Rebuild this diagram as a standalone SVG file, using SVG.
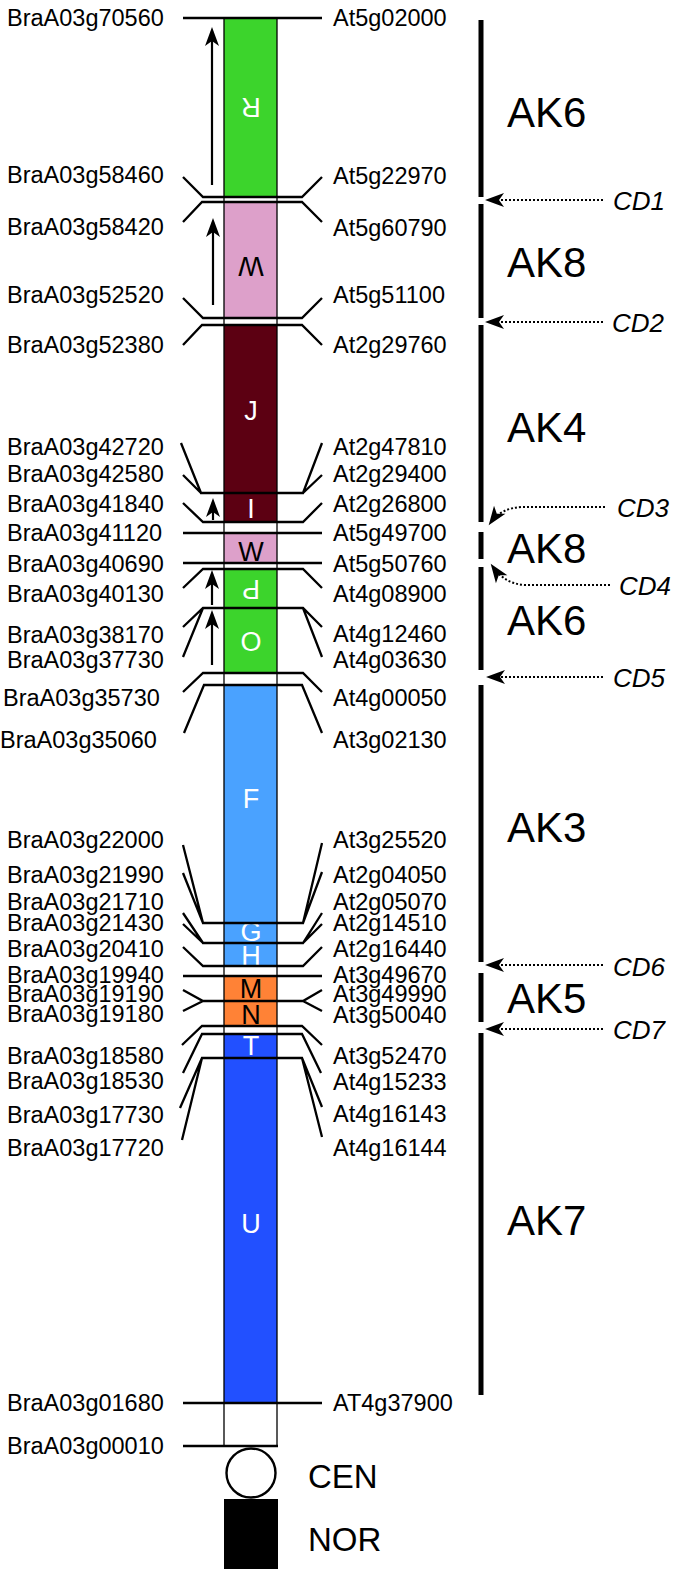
<svg xmlns="http://www.w3.org/2000/svg" width="685" height="1573" viewBox="0 0 685 1573">
<style>
.lbl{font-family:"Liberation Sans",Arial,Helvetica,sans-serif;font-size:23.5px;fill:#000}
.seg{font-family:"Liberation Sans",Arial,Helvetica,sans-serif;font-size:27px;text-anchor:middle;fill:#fff}
.segk{fill:#000}
.ak{font-family:"Liberation Sans",Arial,Helvetica,sans-serif;font-size:42px;fill:#000}
.cd{font-family:"Liberation Sans",Arial,Helvetica,sans-serif;font-size:26px;font-style:italic;fill:#000}
.big{font-family:"Liberation Sans",Arial,Helvetica,sans-serif;font-size:33px;fill:#000}
.j{fill:none;stroke:#000;stroke-width:2.3;stroke-linejoin:miter}
.bar{stroke:#000;stroke-width:5}
.dot{fill:none;stroke:#000;stroke-width:2;stroke-dasharray:2 2}
.arr{stroke:#000;stroke-width:2.2;marker-end:url(#ah)}
.green{fill:#3CD42C}.pink{fill:#DDA0CA}.dred{fill:#5C0012}.lblue{fill:#4AA2FF}.orange{fill:#FF8236}.blue{fill:#2250FF}
</style>
<defs>
<marker id="ah" markerUnits="userSpaceOnUse" orient="auto" refX="0" refY="0" viewBox="-17 -8 23 16" markerWidth="23" markerHeight="16">
<path d="M4,0 L-15,-7 L-10,0 L-15,7 Z" fill="#000"/>
</marker>
</defs>
<rect width="685" height="1573" fill="#fff"/>

<g id="chromosome">
<rect x="224" y="18" width="53" height="1428" fill="#fff"/>
<g id="seg-R"><rect class="green" x="224" y="18" width="53" height="179"/><text class="seg" x="251" y="118" transform="rotate(180 251 108)">R</text></g>
<g id="seg-W1"><rect class="pink" x="224" y="202" width="53" height="116"/><text class="seg segk" x="251" y="277" transform="rotate(180 251 267)">W</text></g>
<g id="seg-J"><rect class="dred" x="224" y="325" width="53" height="168"/><text class="seg" x="251" y="420">J</text></g>
<g id="seg-I"><rect class="dred" x="224" y="493" width="53" height="29"/><text class="seg" x="251" y="518">I</text></g>
<g id="seg-W2"><rect class="pink" x="224" y="533" width="53" height="30"/><text class="seg segk" x="251" y="561">W</text></g>
<g id="seg-P"><rect class="green" x="224" y="568" width="53" height="40"/><text class="seg" x="251" y="600" transform="rotate(180 251 590)">P</text></g>
<g id="seg-O"><rect class="green" x="224" y="608" width="53" height="65"/><text class="seg" x="251" y="651">O</text></g>
<g id="seg-F"><rect class="lblue" x="224" y="685" width="53" height="238"/><text class="seg" x="251" y="808">F</text></g>
<g id="seg-G"><rect class="lblue" x="224" y="923" width="53" height="20"/><text class="seg" x="251" y="941">G</text></g>
<g id="seg-H"><rect class="lblue" x="224" y="943" width="53" height="23"/><text class="seg" x="251" y="965">H</text></g>
<g id="seg-M"><rect class="orange" x="224" y="976" width="53" height="25"/><text class="seg segk" x="251" y="998">M</text></g>
<g id="seg-N"><rect class="orange" x="224" y="1001" width="53" height="25"/><text class="seg segk" x="251" y="1024">N</text></g>
<g id="seg-T"><rect class="blue" x="224" y="1034" width="53" height="24"/><text class="seg" x="251" y="1055">T</text></g>
<g id="seg-U"><rect class="blue" x="224" y="1058" width="53" height="345"/><text class="seg" x="251" y="1233">U</text></g>
<rect x="224" y="18" width="53" height="1428" fill="none" stroke="#000" stroke-width="1.3"/>
<g id="CEN"><circle cx="251" cy="1473" r="24.5" fill="#fff" stroke="#000" stroke-width="2.4"/></g>
<g id="NOR"><rect x="224" y="1499" width="54" height="70" fill="#000"/></g>
</g>

<g id="connectors">
<path class="j" d="M183,18 H322"/>
<path class="j" d="M183,177 L203,197 H302 L322,177"/>
<path class="j" d="M183,222 L202,202 H302 L322,222"/>
<path class="j" d="M183,298 L203,318 H302 L322,298"/>
<path class="j" d="M183,345 L202,325 H302 L322,345"/>
<path class="j" d="M181,443 L201,493 H303 L322,443 M183,475 L201,493 M322,475 L303,493"/>
<path class="j" d="M183,503 L203,522 H303 L322,503"/>
<path class="j" d="M183,533 H322"/>
<path class="j" d="M183,563 H322"/>
<path class="j" d="M183,588 L203,569 H303 L322,588"/>
<path class="j" d="M183,627 L203,608 H303 L322,627 M183,657 L203,608 M322,657 L303,608"/>
<path class="j" d="M183,692 L203,673 H303 L322,692"/>
<path class="j" d="M184,733 L204,685 H302 L322,733"/>
<path class="j" d="M183,845 L203,923 H303 L322,843 M183,873 L203,923 M322,872 L303,923"/>
<path class="j" d="M183,913 L203,943 H303 L322,913 M183,924 L203,943 M322,924 L303,943"/>
<path class="j" d="M183,947 L203,966 H303 L322,947"/>
<path class="j" d="M183,976 H322"/>
<path class="j" d="M183,990 L203,1001 H303 L322,990 M183,1011 L203,1001 M322,1011 L303,1001"/>
<path class="j" d="M182,1045 L202,1026 H302 L322,1045"/>
<path class="j" d="M183,1073 L202,1034 H302 L321,1073"/>
<path class="j" d="M180,1108 L202,1058 H302 L322,1107 M182,1140 L202,1058 M322,1137 L302,1058"/>
<path class="j" d="M183,1403 H322"/>
<path class="j" d="M183,1446 H278" stroke-width="2.6"/>
<line class="arr" x1="212" y1="185" x2="212" y2="31"/>
<line class="arr" x1="213" y1="305" x2="213" y2="222"/>
<line class="arr" x1="213" y1="520" x2="213" y2="502"/>
<line class="arr" x1="212" y1="605" x2="212" y2="574"/>
<line class="arr" x1="212" y1="665" x2="212" y2="614"/>
</g>

<g id="left-labels" class="lbl">
<text x="7" y="26">BraA03g70560</text>
<text x="7" y="183">BraA03g58460</text>
<text x="7" y="235">BraA03g58420</text>
<text x="7" y="303">BraA03g52520</text>
<text x="7" y="353">BraA03g52380</text>
<text x="7" y="455">BraA03g42720</text>
<text x="7" y="482">BraA03g42580</text>
<text x="7" y="512">BraA03g41840</text>
<text x="7" y="541">BraA03g41120</text>
<text x="7" y="572">BraA03g40690</text>
<text x="7" y="602">BraA03g40130</text>
<text x="7" y="643">BraA03g38170</text>
<text x="7" y="668">BraA03g37730</text>
<text x="3" y="706">BraA03g35730</text>
<text x="0" y="748">BraA03g35060</text>
<text x="7" y="848">BraA03g22000</text>
<text x="7" y="883">BraA03g21990</text>
<text x="7" y="910">BraA03g21710</text>
<text x="7" y="931">BraA03g21430</text>
<text x="7" y="957">BraA03g20410</text>
<text x="7" y="983">BraA03g19940</text>
<text x="7" y="1002">BraA03g19190</text>
<text x="7" y="1022">BraA03g19180</text>
<text x="7" y="1064">BraA03g18580</text>
<text x="7" y="1089">BraA03g18530</text>
<text x="7" y="1123">BraA03g17730</text>
<text x="7" y="1156">BraA03g17720</text>
<text x="7" y="1411">BraA03g01680</text>
<text x="7" y="1454">BraA03g00010</text>
</g>

<g id="right-labels" class="lbl">
<text x="333" y="26">At5g02000</text>
<text x="333" y="184">At5g22970</text>
<text x="333" y="236">At5g60790</text>
<text x="333" y="303">At5g51100</text>
<text x="333" y="353">At2g29760</text>
<text x="333" y="455">At2g47810</text>
<text x="333" y="482">At2g29400</text>
<text x="333" y="512">At2g26800</text>
<text x="333" y="541">At5g49700</text>
<text x="333" y="572">At5g50760</text>
<text x="333" y="602">At4g08900</text>
<text x="333" y="642">At4g12460</text>
<text x="333" y="668">At4g03630</text>
<text x="333" y="706">At4g00050</text>
<text x="333" y="748">At3g02130</text>
<text x="333" y="848">At3g25520</text>
<text x="333" y="883">At2g04050</text>
<text x="333" y="910">At2g05070</text>
<text x="333" y="931">At2g14510</text>
<text x="333" y="957">At2g16440</text>
<text x="333" y="983">At3g49670</text>
<text x="333" y="1002">At3g49990</text>
<text x="333" y="1023">At3g50040</text>
<text x="333" y="1064">At3g52470</text>
<text x="333" y="1090">At4g15233</text>
<text x="333" y="1122">At4g16143</text>
<text x="333" y="1156">At4g16144</text>
<text x="333" y="1411">AT4g37900</text>
</g>

<g id="CEN-NOR-labels" class="big">
<text x="308" y="1488">CEN</text>
<text x="308" y="1551">NOR</text>
</g>

<g id="ak-blocks">
<g id="AK6a"><line class="bar" x1="481" y1="20" x2="481" y2="197"/><text class="ak" x="507" y="127">AK6</text></g>
<g id="AK8a"><line class="bar" x1="481" y1="204" x2="481" y2="318"/><text class="ak" x="507" y="277">AK8</text></g>
<g id="AK4"><line class="bar" x1="481" y1="325" x2="481" y2="522"/><text class="ak" x="507" y="442">AK4</text></g>
<g id="AK8b"><line class="bar" x1="481" y1="532" x2="481" y2="559"/><text class="ak" x="507" y="563">AK8</text></g>
<g id="AK6b"><line class="bar" x1="481" y1="567" x2="481" y2="670"/><text class="ak" x="507" y="635">AK6</text></g>
<g id="AK3"><line class="bar" x1="481" y1="685" x2="481" y2="962"/><text class="ak" x="507" y="842">AK3</text></g>
<g id="AK5"><line class="bar" x1="481" y1="973" x2="481" y2="1022"/><text class="ak" x="507" y="1013">AK5</text></g>
<g id="AK7"><line class="bar" x1="481" y1="1033" x2="481" y2="1395"/><text class="ak" x="507" y="1235">AK7</text></g>
</g>

<g id="cd-arrows">
<g id="CD1"><path class="dot" d="M603,200 H489" marker-end="url(#ah)"/><text class="cd" x="613" y="210">CD1</text></g>
<g id="CD2"><path class="dot" d="M603,322 H489" marker-end="url(#ah)"/><text class="cd" x="612" y="332">CD2</text></g>
<g id="CD3"><path class="dot" d="M605,507 H522 Q501,508 491,522" marker-end="url(#ah)"/><text class="cd" x="617" y="517">CD3</text></g>
<g id="CD4"><path class="dot" d="M610,585 H525 Q505,584 493,567" marker-end="url(#ah)"/><text class="cd" x="619" y="595">CD4</text></g>
<g id="CD5"><path class="dot" d="M603,677 H490" marker-end="url(#ah)"/><text class="cd" x="613" y="687">CD5</text></g>
<g id="CD6"><path class="dot" d="M603,965 H489" marker-end="url(#ah)"/><text class="cd" x="613" y="976">CD6</text></g>
<g id="CD7"><path class="dot" d="M603,1029 H489" marker-end="url(#ah)"/><text class="cd" x="613" y="1039">CD7</text></g>
</g>
</svg>
